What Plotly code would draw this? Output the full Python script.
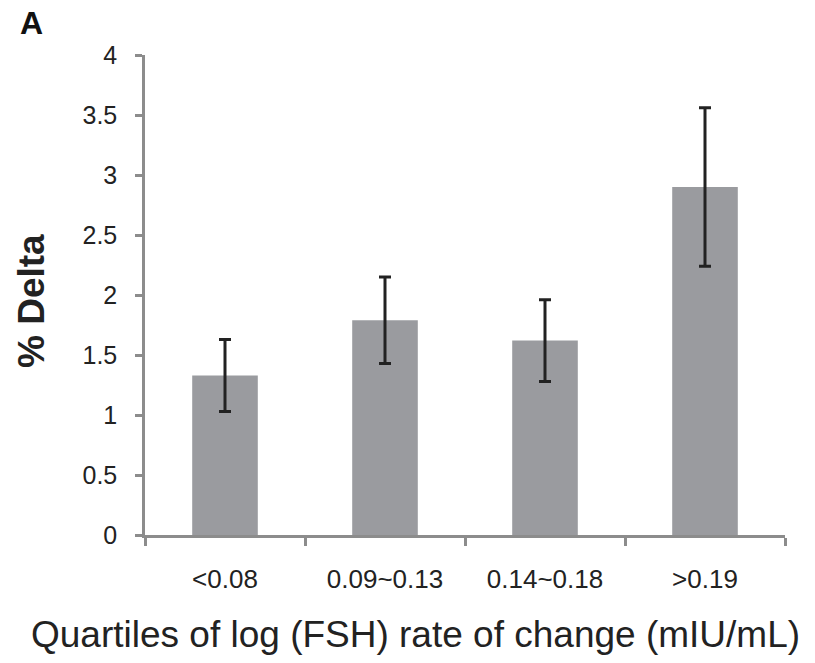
import plotly.graph_objects as go

categories = ["<0.08", "0.09~0.13", "0.14~0.18", ">0.19"]
values = [1.33, 1.79, 1.62, 2.90]
errors = [0.30, 0.36, 0.34, 0.66]
y_ticks = [0, 0.5, 1, 1.5, 2, 2.5, 3, 3.5, 4]
y_tick_labels = ["0", "0.5", "1", "1.5", "2", "2.5", "3", "3.5", "4"]
x_title = "Quartiles of log (FSH) rate of change (mIU/mL)"
y_title = "<b>% Delta</b>"
panel_label = "<b>A</b>"

fig = go.Figure()
fig.add_trace(go.Bar(
    x=categories, y=values,
    marker=dict(color="#9a9b9f", line=dict(width=0)),
    error_y=dict(type="data", array=errors, visible=True,
                 color="#222222", thickness=3, width=6),
    width=0.41,
))

font_family = "Liberation Sans, Arial, sans-serif"
L, R, T, B = 145, 30, 55, 128
PW, PH = 815 - L - R, 663 - T - B


def px_x(x):
    return (x - L) / PW


def px_y(y):
    return (663 - B - y) / PH


fig.update_layout(
    width=815, height=663,
    margin=dict(l=L, r=R, t=T, b=B),
    plot_bgcolor="white", paper_bgcolor="white",
    showlegend=False,
    font=dict(family=font_family, color="#222222"),
    xaxis=dict(
        showline=True, linecolor="#8c8c8c", linewidth=2.5,
        ticks="outside", tickson="boundaries", ticklen=8, tickwidth=2.5, tickcolor="#8c8c8c",
        tickfont=dict(size=26, color="#222222"),
        ticklabelstandoff=19,
        showgrid=False, zeroline=False,
    ),
    yaxis=dict(
        range=[0, 4], tickvals=y_ticks, ticktext=y_tick_labels,
        showline=True, linecolor="#8c8c8c", linewidth=2.5,
        ticks="outside", ticklen=7, tickwidth=2.5, tickcolor="#8c8c8c",
        tickfont=dict(size=25, color="#222222"),
        ticklabelstandoff=13,
        showgrid=False, zeroline=False,
    ),
    annotations=[
        dict(text=panel_label, showarrow=False, xref="paper", yref="paper",
             x=px_x(31), y=px_y(23), xanchor="center", yanchor="middle",
             font=dict(size=32, color="#111111")),
        dict(text=x_title, showarrow=False, xref="paper", yref="paper",
             x=px_x(415), y=px_y(634), xanchor="center", yanchor="middle",
             font=dict(size=37, color="#222222")),
        dict(text=y_title, showarrow=False, xref="paper", yref="paper", textangle=-90,
             x=px_x(31), y=px_y(301), xanchor="center", yanchor="middle",
             font=dict(size=37, color="#222222")),
    ],
)

fig.write_html("out.html")
